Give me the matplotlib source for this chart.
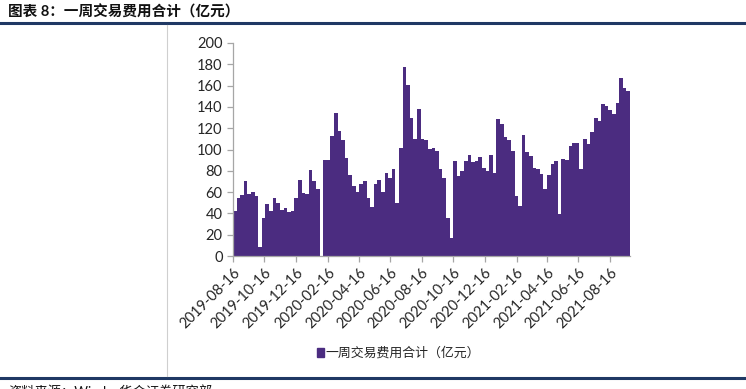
import numpy as np
import pandas as pd
import matplotlib
matplotlib.use('Agg')
import matplotlib.pyplot as plt
from matplotlib.lines import Line2D

plt.rcParams['font.family'] = ['Lato', 'Noto Sans CJK SC', 'DejaVu Sans']

# weekly totals (100 million yuan), one slot per week from 2019-08-16; None = no trading week
start_date = '2019-08-16'
fees = [42, 54, 57, 70, 58, 60.5, 56, 8, 36, 49, 42, 54, 50, 43, 45, 41, 42, 54, 71, 59,
        58, 81, 70, 63, None,
        90, 90, 113, 134, 117, 109, 92, 76, 66, 60.5,
        68, 70, 54, 46, 68, 71, 60, 78, 73, 82,
        50, 101, 177, 161, 130, 110, 138, 110, 109, 100,
        101, 99, 82, 73, 36, 17, 89, 75, 80, 89,
        95, 88, 89, 93, 83, 80, 95, 78, 128.5, 124,
        112, 109, 99, 56, 47, 114, 98, 94, 83, 82,
        77, 63, 76, 86, 89, 39, 91, 90, 103, 106,
        106, 82, 110, 105, 116, 130, 127, 143, 141, 137,
        133, 144, 167, 158, 155]
tick_dates = ['2019-08-16', '2019-10-16', '2019-12-16', '2020-02-16', '2020-04-16',
              '2020-06-16', '2020-08-16', '2020-10-16', '2020-12-16', '2021-02-16',
              '2021-04-16', '2021-06-16', '2021-08-16']
series_name = '一周交易费用合计（亿元）'
title = '图表 8：一周交易费用合计（亿元）'
source = '资料来源：Wind，华金证券研究部'

dates = pd.date_range(start=start_date, periods=len(fees), freq='7D')
vals = np.array([np.nan if v is None else v for v in fees], dtype=float)

fig = plt.figure(figsize=(7.46, 3.89), dpi=100)
ax = fig.add_axes([233 / 746, 1 - 256 / 389, (630 - 233) / 746, (256 - 43) / 389])

bar_color = '#4b2c80'
ax.bar(dates, vals, width=7, align='edge', color=bar_color, linewidth=0)

ax.set_xlim(pd.Timestamp(start_date), dates[-1] + pd.Timedelta(days=7))
ax.set_ylim(0, 200)
ax.set_yticks(np.arange(0, 201, 20))

ticks = pd.to_datetime(tick_dates)
ax.set_xticks(ticks)
ax.set_xticklabels(tick_dates, rotation=45, ha='right', rotation_mode='anchor')

for s in ['top', 'right']:
    ax.spines[s].set_visible(False)
for s in ['left', 'bottom']:
    ax.spines[s].set_color('#a6a6a6')
    ax.spines[s].set_linewidth(0.9)
ax.tick_params(axis='both', colors='#a6a6a6', labelcolor='#262626', labelsize=10.5,
               length=4, width=0.9)
ax.tick_params(axis='x', pad=3)

# page decoration: title, rules, table border, legend, source
fig.text(8 / 746, 1 - 12 / 389, title, fontsize=10.5, fontweight='bold', va='center',
         ha='left', color='#111111')
fig.add_artist(Line2D([0, 1], [1 - 23 / 389] * 2, color='#1f3864', linewidth=2.2))
fig.add_artist(Line2D([0, 1], [1 - 378 / 389] * 2, color='#1f3864', linewidth=2.2))
fig.add_artist(Line2D([167 / 746] * 2, [1 - 25 / 389, 1 - 376 / 389], color='#cfcfcf',
                      linewidth=0.8))

fig.patches.append(plt.Rectangle((317 / 746, 1 - 357 / 389), 7 / 746, 9 / 389,
                                 transform=fig.transFigure, color=bar_color, figure=fig))
fig.text(325 / 746, 1 - 352 / 389, series_name, fontsize=9.3, va='center', ha='left',
         color='#262626')
fig.text(8 / 746, 1 - 392 / 389, source, fontsize=9.5, va='center', ha='left',
         color='#111111')

fig.savefig('out.png', dpi=100)
